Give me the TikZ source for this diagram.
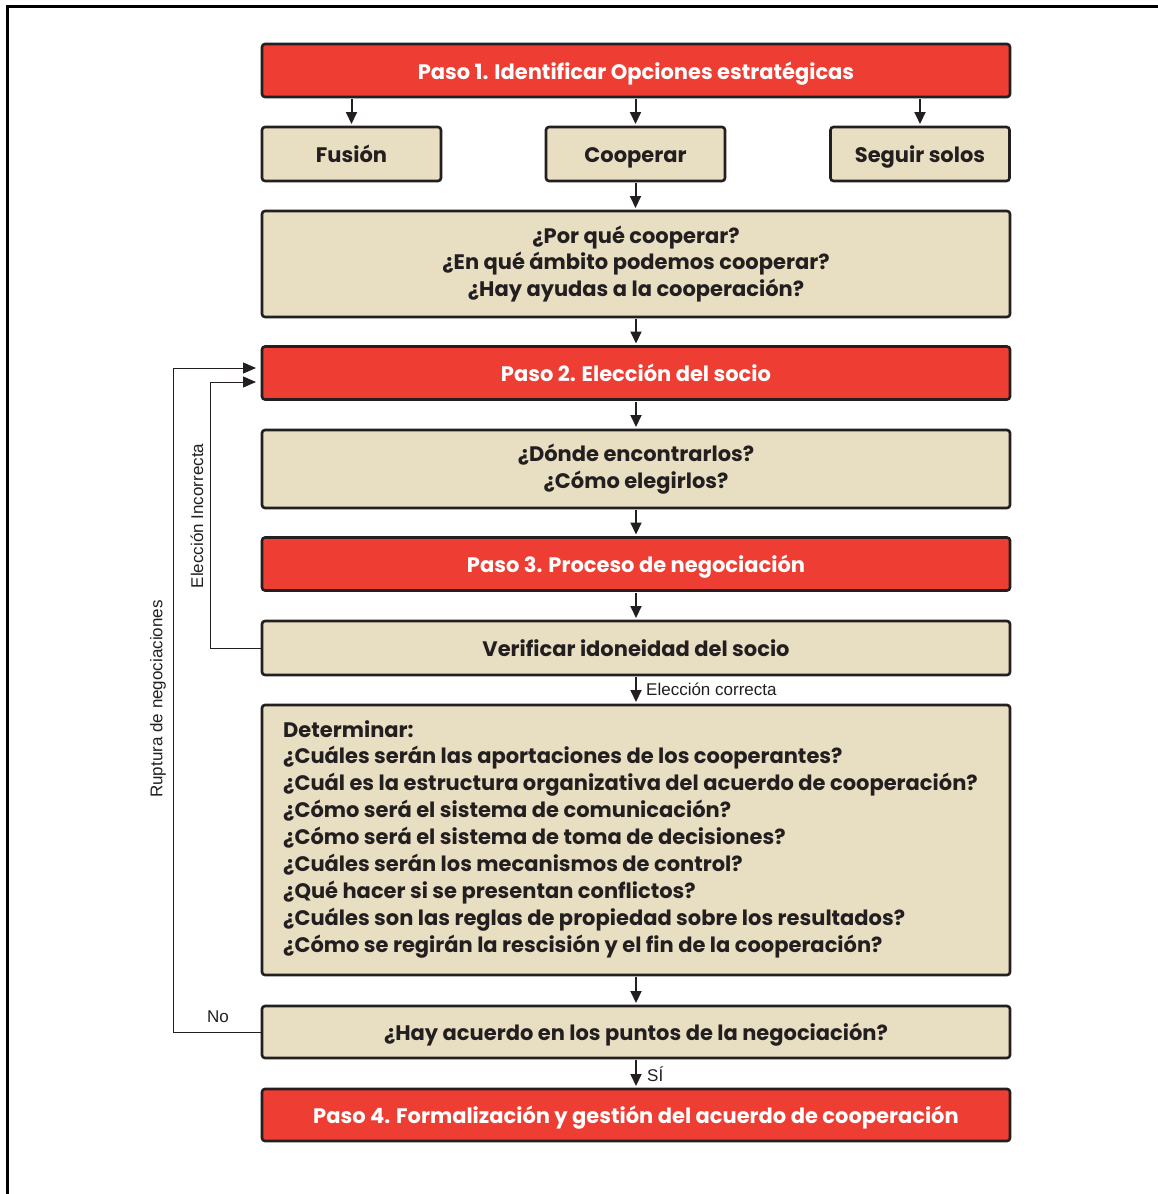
\documentclass[tikz,border=0pt]{standalone}
\usepackage{fontspec}
\setmainfont{Poppins}
\newfontfamily\lightfont{Liberation Sans}
\usetikzlibrary{arrows.meta,calc}
\definecolor{redbox}{HTML}{EE3D33}
\definecolor{tanbox}{HTML}{E8DEC2}
\definecolor{ink}{HTML}{231F20}
\begin{document}
\begin{tikzpicture}[x=1pt,y=-1pt,
  base/.style={draw=ink,line width=2.6pt,rounded corners=3pt,inner sep=0pt,outer sep=0pt,
     font=\fontsize{21}{26.7}\selectfont\bfseries,align=center},
  one/.style={text height=19pt,text depth=2pt},
  redstep/.style={base,one,fill=redbox,text=white,minimum width=748pt,minimum height=53pt},
  tanstep/.style={base,fill=tanbox,text=ink,minimum width=748pt},
  optbox/.style={base,one,fill=tanbox,text=ink,minimum width=179pt,minimum height=54pt},
  flow/.style={draw=ink,line width=2pt,-{Triangle[length=12pt,width=11pt]},shorten <=2pt,shorten >=3pt},
  back/.style={draw=ink,line width=1pt,-{Triangle[length=13pt,width=11pt]},shorten >=6pt},
  small/.style={text=ink,font=\lightfont\fontsize{17}{17}\selectfont,inner sep=0pt}]
\useasboundingbox (0,0) rectangle (1158,1194);
\draw[line width=3pt] (7,1194) -- (7,6) -- (1158,6);

\node[redstep] (p1) at (636,70.5) {Paso 1. Identificar Opciones estratégicas};
\node[optbox] (fus) at (351.5,154) {Fusión};
\node[optbox] (coop) at (635.5,154) {Cooperar};
\node[optbox] (seg) at (920,154) {Seguir solos};
\node[tanstep,minimum height=106pt] (q1) at (636,264) {¿Por qué cooperar?\\¿En qué ámbito podemos cooperar?\\¿Hay ayudas a la cooperación?};
\node[redstep] (p2) at (636,373) {Paso 2. Elección del socio};
\node[tanstep,minimum height=78pt] (q2) at (636,469) {¿Dónde encontrarlos?\\¿Cómo elegirlos?};
\node[redstep] (p3) at (636,564) {Paso 3. Proceso de negociación};
\node[tanstep,one,minimum height=54pt] (ver) at (636,648) {Verificar idoneidad del socio};
\node[tanstep,minimum height=270pt] (det) at (636,840) {};
\node[anchor=north west,inner sep=0pt,align=left,text=ink,font=\fontsize{21}{26.9}\selectfont\bfseries] (dettext) at (283,720)
 {Determinar:\\
 ¿Cuáles serán las aportaciones de los cooperantes?\\
 ¿Cuál es la estructura organizativa del acuerdo de cooperación?\\
 ¿Cómo será el sistema de comunicación?\\
 ¿Cómo será el sistema de toma de decisiones?\\
 ¿Cuáles serán los mecanismos de control?\\
 ¿Qué hacer si se presentan conflictos?\\
 ¿Cuáles son las reglas de propiedad sobre los resultados?\\
 ¿Cómo se regirán la rescisión y el fin de la cooperación?};
\node[tanstep,one,minimum height=52pt] (hay) at (636,1032) {¿Hay acuerdo en los puntos de la negociación?};
\node[redstep,minimum height=52pt] (p4) at (636,1115) {Paso 4. Formalización y gestión del acuerdo de cooperación};

\draw[flow] (p1.south -| fus) -- (fus);
\draw[flow] (p1.south -| coop) -- (coop);
\draw[flow] (p1.south -| seg) -- (seg);
\draw[flow] (coop) -- (coop |- q1.north);
\draw[flow] (q1) -- (p2);
\draw[flow] (p2) -- (q2);
\draw[flow] (q2) -- (p3);
\draw[flow] (p3) -- (ver);
\draw[flow] (ver) -- (det);
\draw[flow] (det) -- (hay);
\draw[flow] (hay) -- (p4);

\draw[back] (ver.west) -| (210,382) -- ([yshift=-9pt]p2.west);
\draw[back] (hay.west) -| (173,368) -- ([yshift=5pt]p2.west);

\node[small,anchor=west] (lcor) at (646,689) {Elección correcta};
\node[small,anchor=west] (lsi) at (647,1074) {SÍ};
\node[small] (lno) at (218,1017) {No};
\node[small,rotate=90] (linc) at (197,516) {Elección Incorrecta};
\node[small,rotate=90] (lrup) at (158,699) {Ruptura de negociaciones};
\end{tikzpicture}
\end{document}
